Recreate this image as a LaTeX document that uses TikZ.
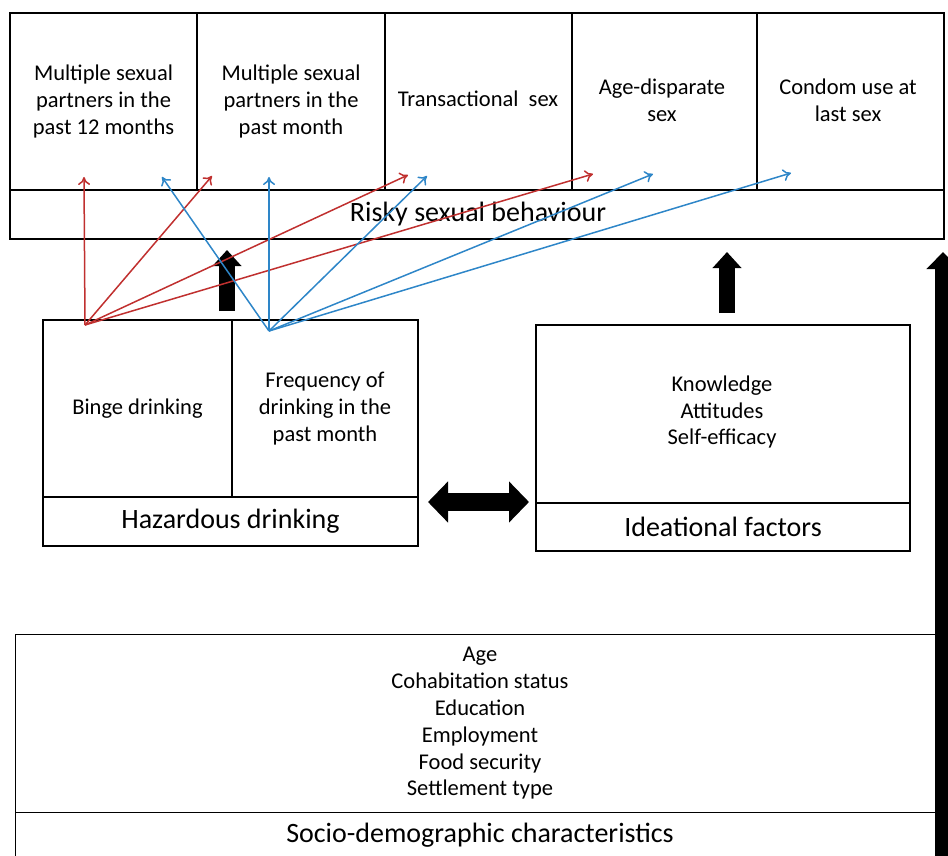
\documentclass[tikz,border=0pt]{standalone}
\usepackage{fontspec}
\setmainfont{Carlito}
\usetikzlibrary{arrows.meta}
\definecolor{rred}{HTML}{C0302F}
\definecolor{bblue}{HTML}{2E86C8}
\tikzset{
  cell/.style={draw=black, line width=1.4pt, inner sep=0pt, align=center, font=\fontsize{22.5}{26.8}\selectfont},
  band/.style={draw=black, line width=1.4pt, inner sep=0pt, align=center, font=\fontsize{28}{30}\selectfont},
  lbl/.style={inner sep=0pt, align=center, font=\fontsize{22.5}{26.8}\selectfont},
  biglbl/.style={inner sep=0pt, align=center, font=\fontsize{28}{30}\selectfont},
  redarr/.style={draw=rred, line width=1.5pt, -{To[length=8pt,width=12pt]}},
  bluearr/.style={draw=bblue, line width=1.5pt, -{To[length=8pt,width=12pt]}},
  blockarr/.style={line width=16pt, -{Triangle[length=16pt,width=28pt]}},
}
\begin{document}
\begin{tikzpicture}[x=1pt,y=-1pt]
\useasboundingbox (0,0) rectangle (948,856);
\clip (0,0) rectangle (948,856);
% top outer
\node[cell, minimum width=187pt, minimum height=177pt] (c1) at (103.5,101.5) {Multiple sexual\\partners in the\\past 12 months};
\node[cell, minimum width=188pt, minimum height=177pt] (c2) at (291,101.5) {Multiple sexual\\partners in the\\past month};
\node[cell, minimum width=187pt, minimum height=177pt] (c3) at (478.5,101.5) {};
\node[lbl] (c3t) at (478,99) {Transactional\ \ sex};
\node[cell, minimum width=185pt, minimum height=177pt] (c4) at (664.5,101.5) {};
\node[lbl] (c4t) at (662,100) {Age-disparate\\sex};
\node[cell, minimum width=187pt, minimum height=177pt] (c5) at (850.5,101.5) {};
\node[lbl] (c5t) at (848,100) {Condom use at\\last sex};
\node[band, minimum width=934pt, minimum height=49pt] (rsb) at (477,214.5) {};
\node[biglbl] (rsbt) at (478,214) {Risky sexual behaviour};
% hazardous
\node[cell, minimum width=189pt, minimum height=177pt] (h1) at (137.5,408.5) {Binge drinking};
\node[cell, minimum width=186pt, minimum height=177pt] (h2) at (325,408.5) {Frequency of\\drinking in the\\past month};
\node[band, minimum width=375pt, minimum height=49pt] (hd) at (230.5,521.5) {Hazardous drinking};
% ideational
\node[cell, minimum width=374pt, minimum height=178pt] (i1) at (723,414) {};
\node[lbl] (i1t) at (722,412) {Knowledge\\Attitudes\\Self-efficacy};
\node[band, minimum width=374pt, minimum height=48pt] (idf) at (723,527) {Ideational factors};
% socio-demographic
\node[cell, minimum width=930pt, minimum height=178pt, anchor=north west] (s1) at (15,634) {};
\node[lbl] (s1t) at (480,723.5) {Age\\Cohabitation status\\Education\\Employment\\Food security\\Settlement type};
\node[band, minimum width=930pt, minimum height=60pt, anchor=north west] (sdc) at (15,812) {};
\node[biglbl] (sdct) at (480,835) {Socio-demographic characteristics};
% block arrows
\coordinate (ua1s) at (227,311);
\coordinate (ua1e) at (227,250);
\coordinate (ua2s) at (727,313);
\coordinate (ua2e) at (727,252);
\draw[blockarr] (ua1s) -- (ua1e);
\draw[blockarr] (ua2s) -- (ua2e);
\coordinate (ra1s) at (943,870);
\coordinate (ra1e) at (943,252);
\draw[line width=16pt, -{Triangle[length=17pt,width=32pt]}] (ra1s) -- (ra1e);
\coordinate (da1) at (428,502);
\coordinate (da2) at (529,502);
\draw[line width=18pt, {Triangle[length=20pt,width=40pt]}-{Triangle[length=20pt,width=40pt]}] (da1) -- (da2);
% coloured arrows
\coordinate (ro) at (85,325);
\coordinate (bo) at (269,331);
\coordinate (r1) at (84,177);
\coordinate (r2) at (212,176);
\coordinate (r3) at (408,175);
\coordinate (r4) at (593,174);
\coordinate (b1) at (162,177);
\coordinate (b2) at (269,177);
\coordinate (b3) at (427,176);
\coordinate (b4) at (653,174);
\coordinate (b5) at (791,173);
\foreach \t in {r1,r2,r3,r4} \draw[redarr] (ro) -- (\t);
\foreach \t in {b1,b2,b3,b4,b5} \draw[bluearr] (bo) -- (\t);
\end{tikzpicture}
\end{document}
